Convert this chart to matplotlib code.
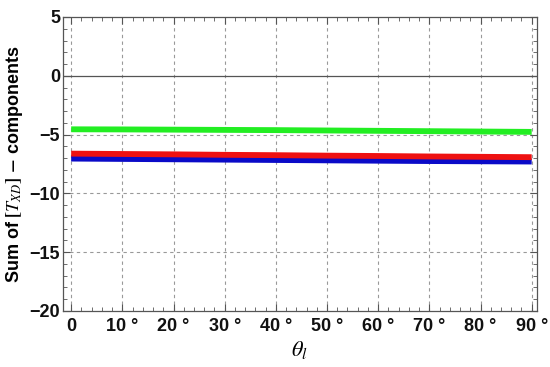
import matplotlib
matplotlib.use("Agg")
import matplotlib.pyplot as plt
from matplotlib.ticker import MultipleLocator, FixedLocator

theta = [0, 10, 20, 30, 40, 50, 60, 70, 80, 90]
green_vals = [-4.55, -4.56, -4.58, -4.60, -4.62, -4.65, -4.68, -4.71, -4.74, -4.77]
red_vals = [-6.62, -6.65, -6.68, -6.72, -6.75, -6.79, -6.82, -6.86, -6.89, -6.92]
blue_vals = [-7.04, -7.07, -7.10, -7.13, -7.16, -7.19, -7.22, -7.25, -7.27, -7.29]
xtick_vals = [0, 10, 20, 30, 40, 50, 60, 70, 80, 90]
xtick_labels = ["0", "10 °", "20 °", "30 °", "40 °", "50 °", "60 °", "70 °", "80 °", "90 °"]
ytick_vals = [5, 0, -5, -10, -15, -20]
ytick_labels = ["5", "0", "\u22125", "\u221210", "\u221215", "\u221220"]

plt.rcParams['mathtext.fontset'] = 'stix'
fig = plt.figure(figsize=(5.5, 3.67), dpi=100)
ax = fig.add_axes([0.1145, 0.1526, 0.976 - 0.1145, 0.9537 - 0.1526])

ax.set_xlim(-1.6, 91.0)
ax.set_ylim(-20, 5)

for v in xtick_vals:
    ax.axvline(v, color='#999999', lw=0.8, ls=(0, (3, 3)), zorder=1)
for v in [-5, -10, -15]:
    ax.axhline(v, color='#999999', lw=0.8, ls=(0, (3, 3)), zorder=1)
ax.axhline(0, color='#555555', lw=0.9, zorder=1)

ax.plot(theta, green_vals, color='#22ee22', lw=4.2, solid_capstyle='butt', zorder=3)
ax.plot(theta, blue_vals, color='#0a0ac8', lw=4.2, solid_capstyle='butt', zorder=3)
ax.plot(theta, red_vals, color='#ee1111', lw=4.2, solid_capstyle='butt', zorder=3)

ax.xaxis.set_major_locator(FixedLocator(xtick_vals))
ax.set_xticklabels(xtick_labels)
ax.xaxis.set_minor_locator(MultipleLocator(2))
ax.yaxis.set_major_locator(FixedLocator(ytick_vals))
ax.set_yticklabels(ytick_labels)
ax.yaxis.set_minor_locator(MultipleLocator(1))

ax.tick_params(which='both', direction='in', top=True, right=True, color='#555555')
ax.tick_params(which='major', length=5, width=0.8)
ax.tick_params(which='minor', length=3, width=0.6)
ax.tick_params(axis='x', which='both', top=True, labeltop=False)
for lab in ax.get_xticklabels() + ax.get_yticklabels():
    lab.set_fontfamily('Liberation Sans')
    lab.set_fontweight('bold')
    lab.set_fontsize(13)
    lab.set_color('#111111')
ax.tick_params(axis='x', pad=5)
ax.tick_params(axis='y', pad=2)

for s in ax.spines.values():
    s.set_color('#555555')
    s.set_linewidth(0.9)

ax.set_ylabel(r"Sum of $\mathbf{[}\mathit{T}_{\mathit{XD}}\mathbf{]}$ $\mathbf{-}$ components", fontsize=13,
              family='Liberation Sans', fontweight='bold', labelpad=3)
ax.set_xlabel(r"$\theta_l$", fontsize=16, labelpad=3)

fig.savefig("out.png", dpi=100)
